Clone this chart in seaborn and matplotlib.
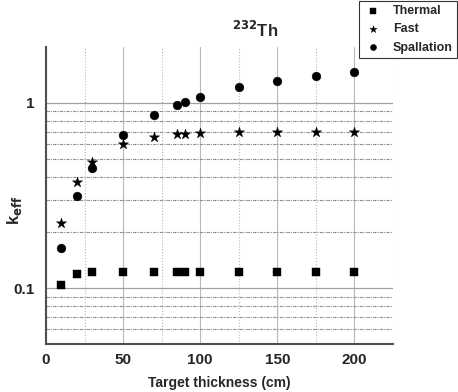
import pandas as pd
import numpy as np
import matplotlib
matplotlib.use('Agg')
import matplotlib.pyplot as plt
import seaborn as sns
from matplotlib.ticker import FixedLocator, NullFormatter, FixedFormatter

sns.set_theme(style="white")
plt.rcParams['font.family'] = ['Liberation Sans', 'DejaVu Sans']

# ---- data ----
thickness = [10, 20, 30, 50, 70, 85, 90, 100, 125, 150, 175, 200]
k_thermal = [0.104, 0.120, 0.123, 0.123, 0.123, 0.123, 0.123, 0.123, 0.123, 0.123, 0.123, 0.123]
k_fast = [0.224, 0.376, 0.477, 0.600, 0.656, 0.678, 0.680, 0.687, 0.695, 0.700, 0.700, 0.700]
k_spall = [0.165, 0.313, 0.445, 0.673, 0.862, 0.970, 1.010, 1.070, 1.210, 1.310, 1.390, 1.460]
series_names = ['Thermal', 'Fast', 'Spallation']

df = pd.DataFrame({
    'x': thickness * 3,
    'k': k_thermal + k_fast + k_spall,
    'series': [n for n in series_names for _ in thickness],
})

fig = plt.figure(figsize=(4.58, 3.92), dpi=100)
ax = fig.add_axes([46 / 458, 48 / 392, 347 / 458, 297 / 392])

markers = {'Thermal': 's', 'Fast': '*', 'Spallation': 'o'}
sizes = {'Thermal': 30, 'Fast': 60, 'Spallation': 40}
for name in series_names:
    sub = df[df['series'] == name]
    sns.scatterplot(data=sub, x='x', y='k', marker=markers[name], s=sizes[name],
                    color='black', edgecolor='black', linewidth=0.3, ax=ax,
                    label=name, zorder=3)

ax.set_yscale('log')
ax.set_xlim(0, 225)
ax.set_ylim(0.05, 2)

# grid: solid major, dotted minor
ax.xaxis.set_major_locator(FixedLocator([0, 50, 100, 150, 200]))
ax.xaxis.set_minor_locator(FixedLocator([25, 75, 125, 175, 225]))
ax.yaxis.set_major_locator(FixedLocator([0.1, 1]))
ax.yaxis.set_major_formatter(FixedFormatter(['0.1', '1']))
ax.yaxis.set_minor_locator(FixedLocator([0.06, 0.07, 0.08, 0.09, 0.2, 0.3, 0.4, 0.5,
                                         0.6, 0.7, 0.8, 0.9]))
ax.yaxis.set_minor_formatter(NullFormatter())
ax.grid(which='major', axis='x', color='#b8b8b8', linestyle='-', linewidth=0.8)
ax.grid(which='minor', axis='x', color='#b8b8b8', linestyle=':', linewidth=0.8)
ax.grid(which='major', axis='y', color='#a0a0a0', linestyle='-', linewidth=0.9)
ax.grid(which='minor', axis='y', color='#909090', linestyle=(0, (3, 1, 1, 1)), linewidth=0.8)
ax.set_axisbelow(True)

for s in ['top', 'right']:
    ax.spines[s].set_visible(False)
for s in ['left', 'bottom']:
    ax.spines[s].set_color('#505050')
    ax.spines[s].set_linewidth(1.5)
ax.tick_params(axis='x', which='major', direction='inout', length=7, width=1, color='#303030',
               labelsize=11, pad=3)
ax.tick_params(axis='x', which='minor', direction='out', length=3, width=1, color='#303030')
ax.tick_params(axis='y', which='major', direction='out', length=5, width=1, color='#303030',
               labelsize=11, pad=3)
ax.tick_params(axis='y', which='minor', direction='out', length=3, width=1, color='#303030')
for lab in ax.get_xticklabels() + ax.get_yticklabels():
    lab.set_fontweight('bold')

ax.set_xlabel('Target thickness (cm)', fontsize=10, fontweight='bold')
ax.xaxis.set_label_coords(173 / 347, -39 / 297)
ax.xaxis.label.set_va('center')
ax.set_ylabel(r'k$_{\mathbf{eff}}$', fontsize=12, fontweight='bold')
ax.yaxis.set_label_coords(-31 / 347, (344 - 210) / 297)
ax.yaxis.label.set_va('center')

fig.text(255 / 458, 1 - 30 / 392, r'$^{\mathbf{232}}$Th', fontsize=12,
         fontweight='bold', ha='center', va='center')

leg = ax.legend(loc='upper right', bbox_to_anchor=(1.0, 1.0), bbox_transform=fig.transFigure,
                frameon=True, fancybox=False, edgecolor='black', fontsize=9,
                handletextpad=0.9, borderpad=0.35, labelspacing=0.5, markerscale=0.7,
                borderaxespad=0.05, handlelength=1.5)
leg.get_frame().set_linewidth(0.8)
for t in leg.get_texts():
    t.set_fontweight('bold')

fig.savefig('out.png', dpi=100)
